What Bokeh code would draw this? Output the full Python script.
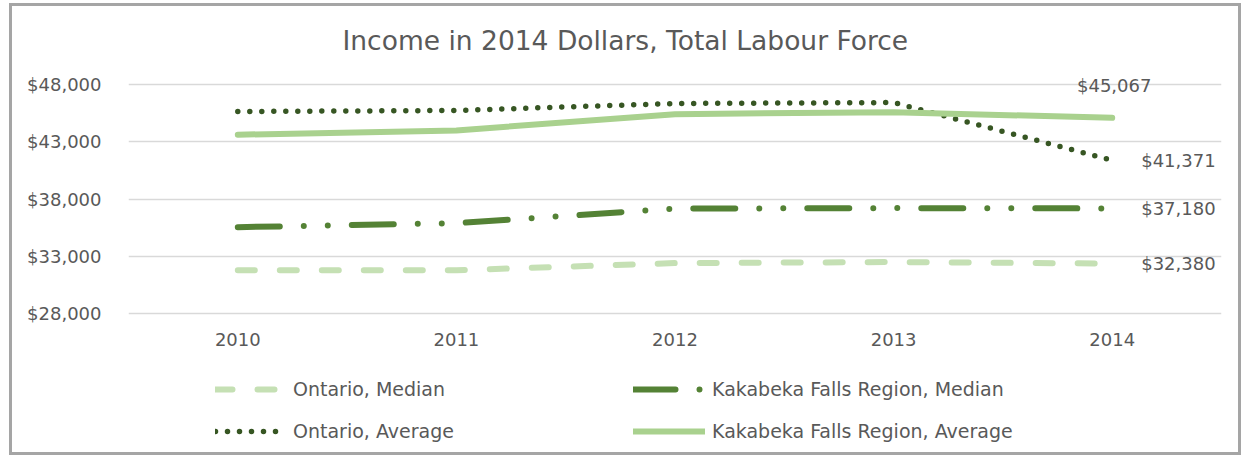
from bokeh.plotting import figure
from bokeh.models import (FactorRange, Range1d, FixedTicker, NumeralTickFormatter, Legend,
                          LegendItem, ColumnDataSource)
from bokeh.core.properties import value
from bokeh.embed import file_html
from bokeh.resources import INLINE

# ---- data ----
years = ["2010", "2011", "2012", "2013", "2014"]
ontario_median = [31790, 31800, 32420, 32510, 32380]
kakabeka_median = [35550, 35900, 37160, 37210, 37180]
ontario_average = [45620, 45710, 46320, 46400, 41371]
kakabeka_average = [43600, 43970, 45390, 45560, 45067]
y_ticks = [28000, 33000, 38000, 43000, 48000]
series_names = ["Ontario, Median", "Kakabeka Falls Region, Median",
                "Ontario, Average", "Kakabeka Falls Region, Average"]
title_text = "Income in 2014 Dollars, Total Labour Force"

FONT = "DejaVu Sans"
TXT = "#595959"

# frame extends below the value axis so the legend sits inside it
p = figure(width=1232, height=452,
           x_range=FactorRange(*years), y_range=Range1d(16450, 49016),
           x_axis_location="above",
           output_backend="svg", toolbar_location=None,
           min_border_left=116, min_border_right=23,
           min_border_top=65, min_border_bottom=12)
p.styles = {"border": "3px solid #A5A5A5", "margin-left": "9px", "margin-top": "3px"}
p.background_fill_color = "white"
p.border_fill_color = "white"
p.outline_line_color = None

p.title.text = title_text
p.title.align = "left"
p.title.offset = 214
p.title.text_font = FONT
p.title.text_font_size = "26.5px"
p.title.text_font_style = "normal"
p.title.text_color = TXT
p.title.standoff = 33

# axes
p.yaxis.ticker = FixedTicker(ticks=y_ticks)
p.yaxis.formatter = NumeralTickFormatter(format="$0,0")
for ax in (p.xaxis, p.yaxis):
    ax.axis_line_color = None
    ax.major_tick_line_color = None
    ax.minor_tick_line_color = None
    ax.major_tick_out = 0
    ax.major_tick_in = 0
    ax.major_label_text_font = FONT
    ax.major_label_text_font_size = "18px"
    ax.major_label_text_color = TXT
p.yaxis.major_label_standoff = 27
# category axis drawn at the $28,000 baseline, labels hanging below it
p.xaxis.fixed_location = y_ticks[0]
p.xaxis.major_label_standoff = -32
p.xgrid.visible = False
p.ygrid.grid_line_color = "#D9D9D9"
p.ygrid.grid_line_width = 1.5

# lines
r1 = p.line(years, ontario_median, line_color="#C5E0B4", line_width=6,
            line_dash="17 25", line_cap="round")
r2 = p.line(years, kakabeka_median, line_color="#548235", line_width=6,
            line_dash="42 24 0 24 0 24", line_cap="round")
r3 = p.line(years, ontario_average, line_color="#375623", line_width=5.5,
            line_dash="0 12", line_cap="round")
r4 = p.line(years, kakabeka_average, line_color="#A9D18E", line_width=6,
            line_cap="round")

# data labels for 2014
def fmt(v):
    return "${:,}".format(v)

right_src = ColumnDataSource(dict(
    x=[years[-1]] * 3,
    y=[ontario_average[-1], kakabeka_median[-1], ontario_median[-1]],
    t=[fmt(ontario_average[-1]), fmt(kakabeka_median[-1]), fmt(ontario_median[-1])]))
p.text(x="x", y="y", text="t", source=right_src, x_offset=29, y_offset=0,
       text_align="left", text_baseline="middle", text_font=value(FONT),
       text_font_size="18px", text_color=TXT)
top_src = ColumnDataSource(dict(x=[years[-1]], y=[kakabeka_average[-1]],
                                t=[fmt(kakabeka_average[-1])]))
p.text(x="x", y="y", text="t", source=top_src, x_offset=2, y_offset=-32,
       text_align="center", text_baseline="middle", text_font=value(FONT),
       text_font_size="18px", text_color=TXT)

def make_legend(items, loc, gw, standoff):
    lg = Legend(items=items, location=loc, orientation="vertical")
    lg.border_line_color = None
    lg.background_fill_alpha = 0
    lg.margin = 0
    lg.padding = 0
    lg.spacing = 20
    lg.glyph_width = gw
    lg.glyph_height = 20
    lg.label_height = 20
    lg.label_standoff = standoff
    lg.label_text_font = FONT
    lg.label_text_font_size = "19px"
    lg.label_text_color = TXT
    return lg

leg1 = make_legend([LegendItem(label=series_names[0], renderers=[r1]),
                    LegendItem(label=series_names[2], renderers=[r3])],
                   (87, 4), 66, 12)
leg2 = make_legend([LegendItem(label=series_names[1], renderers=[r2]),
                    LegendItem(label=series_names[3], renderers=[r4])],
                   (505, 4), 72, 7)
p.add_layout(leg1, "center")
p.add_layout(leg2, "center")

open("out.html", "w").write(file_html(p, INLINE))
